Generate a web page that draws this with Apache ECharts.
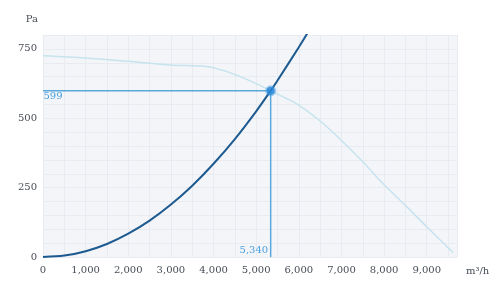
<!DOCTYPE html>
<html>
<head>
<meta charset="utf-8">
<script src="https://cdn.jsdelivr.net/npm/echarts@6/dist/echarts.min.js"></script>
<style>
html,body{margin:0;padding:0;background:#fff;}
#chart{width:500px;height:295px;}
</style>
</head>
<body>
<div id="chart"></div>
<script>
// Fan curve (flow m³/h, pressure Pa)
const fanFlow     = [0, 1000, 2000, 3000, 3870, 4300, 4620, 5000, 5340, 5700, 6000, 6500, 7000, 7500, 8000, 8500, 9000, 9620];
const fanPressure = [725, 717, 705, 692, 686, 669, 650, 625, 599, 572, 547, 490, 420, 343, 260, 186, 109, 15];
// System curve
const sysFlow     = [0, 500, 1000, 1500, 2000, 2500, 3000, 3500, 4000, 4500, 5000, 5340, 5500, 6000, 6200];
const sysPressure = [0, 5, 21, 47, 84, 131, 189, 257, 336, 425, 525, 599, 636, 756, 806];
// Working point
const workFlow = 5340;
const workPressure = 599;
// Axis ticks
const xTicks = [0, 1000, 2000, 3000, 4000, 5000, 6000, 7000, 8000, 9000];
const yTicks = [0, 250, 500, 750];

const xMax = 9710, yMax = 800;
const font = 'DejaVu Serif';
const labelColor = '#474d56';
const blue = '#5aa8dc';

const fmt = v => v.toLocaleString('en-US');

const chart = echarts.init(document.getElementById('chart'), null, {renderer: 'canvas'});
const grid = {left: 43, right: 43, top: 35, bottom: 38, show: true, backgroundColor: '#f3f5f9', borderWidth: 0};

chart.setOption({
  animation: false,
  grid: grid,
  xAxis: [{
    type: 'value', min: 0, max: xMax, interval: 1000,
    name: 'm³/h', nameLocation: 'end', nameGap: 9,
    nameTextStyle: {fontFamily: font, fontSize: 10, color: labelColor, verticalAlign: 'top', padding: [9, 0, 0, 0]},
    axisLine: {show: false}, axisTick: {show: false},
    axisLabel: {fontFamily: font, fontSize: 10, color: labelColor, margin: 8, showMaxLabel: false,
      formatter: v => xTicks.includes(v) ? fmt(v) : ''},
    splitLine: {show: true, lineStyle: {color: '#dfe3e8', width: 1}}
  }, {
    type: 'value', min: 0, max: xMax, interval: 500, position: 'bottom',
    axisLine: {show: false}, axisTick: {show: false}, axisLabel: {show: false},
    splitLine: {show: true, lineStyle: {color: '#e8ebf0', width: 1}}
  }],
  yAxis: [{
    type: 'value', min: 0, max: yMax, interval: 250,
    name: 'Pa', nameLocation: 'end', nameGap: 11,
    nameTextStyle: {fontFamily: font, fontSize: 10, color: labelColor, align: 'right', padding: [0, 5, 0, 0]},
    axisLine: {show: false}, axisTick: {show: false},
    axisLabel: {fontFamily: font, fontSize: 10, color: labelColor, margin: 6, showMaxLabel: false,
      formatter: v => yTicks.includes(v) ? fmt(v) : ''},
    splitLine: {show: true, lineStyle: {color: '#dcdfe5', width: 1}}
  }, {
    type: 'value', min: 0, max: yMax, interval: 50, position: 'left',
    axisLine: {show: false}, axisTick: {show: false}, axisLabel: {show: false},
    splitLine: {show: true, lineStyle: {color: '#e8ebf0', width: 1}}
  }],
  series: [
    {
      type: 'line', name: 'fan', xAxisIndex: 0, yAxisIndex: 0,
      data: fanFlow.map((x, i) => [x, fanPressure[i]]),
      showSymbol: false, smooth: 0.3, z: 2,
      lineStyle: {color: '#c6e3ee', width: 1.5}
    },
    {
      type: 'line', name: 'system', xAxisIndex: 0, yAxisIndex: 0,
      data: sysFlow.map((x, i) => [x, sysPressure[i]]),
      showSymbol: false, smooth: 0.3, clip: true, z: 3,
      lineStyle: {color: '#1d5a90', width: 2}
    },
    {
      type: 'line', name: 'working', xAxisIndex: 0, yAxisIndex: 0,
      data: [
        {value: [0, workPressure], label: {show: true, formatter: fmt(workPressure), position: [1, 1], align: 'left', verticalAlign: 'top'}},
        {value: [workFlow, workPressure]},
        {value: [workFlow, 0], label: {show: true, formatter: fmt(workFlow), position: [-2, -1], align: 'right', verticalAlign: 'bottom'}}
      ],
      symbol: 'circle', symbolSize: 1, showSymbol: true, z: 4,
      itemStyle: {color: 'rgba(0,0,0,0)', borderWidth: 0},
      label: {show: false, fontFamily: font, fontSize: 10, color: '#4a9fdc'},
      lineStyle: {color: blue, width: 1.5}
    },
    {
      type: 'scatter', name: 'point', xAxisIndex: 0, yAxisIndex: 0,
      data: [[workFlow, workPressure]],
      symbol: 'circle', symbolSize: 8, z: 5,
      itemStyle: {color: '#1f7fd6', borderColor: 'rgba(60,150,225,0.55)', borderWidth: 3}
    }
  ]
});
</script>
</body>
</html>
